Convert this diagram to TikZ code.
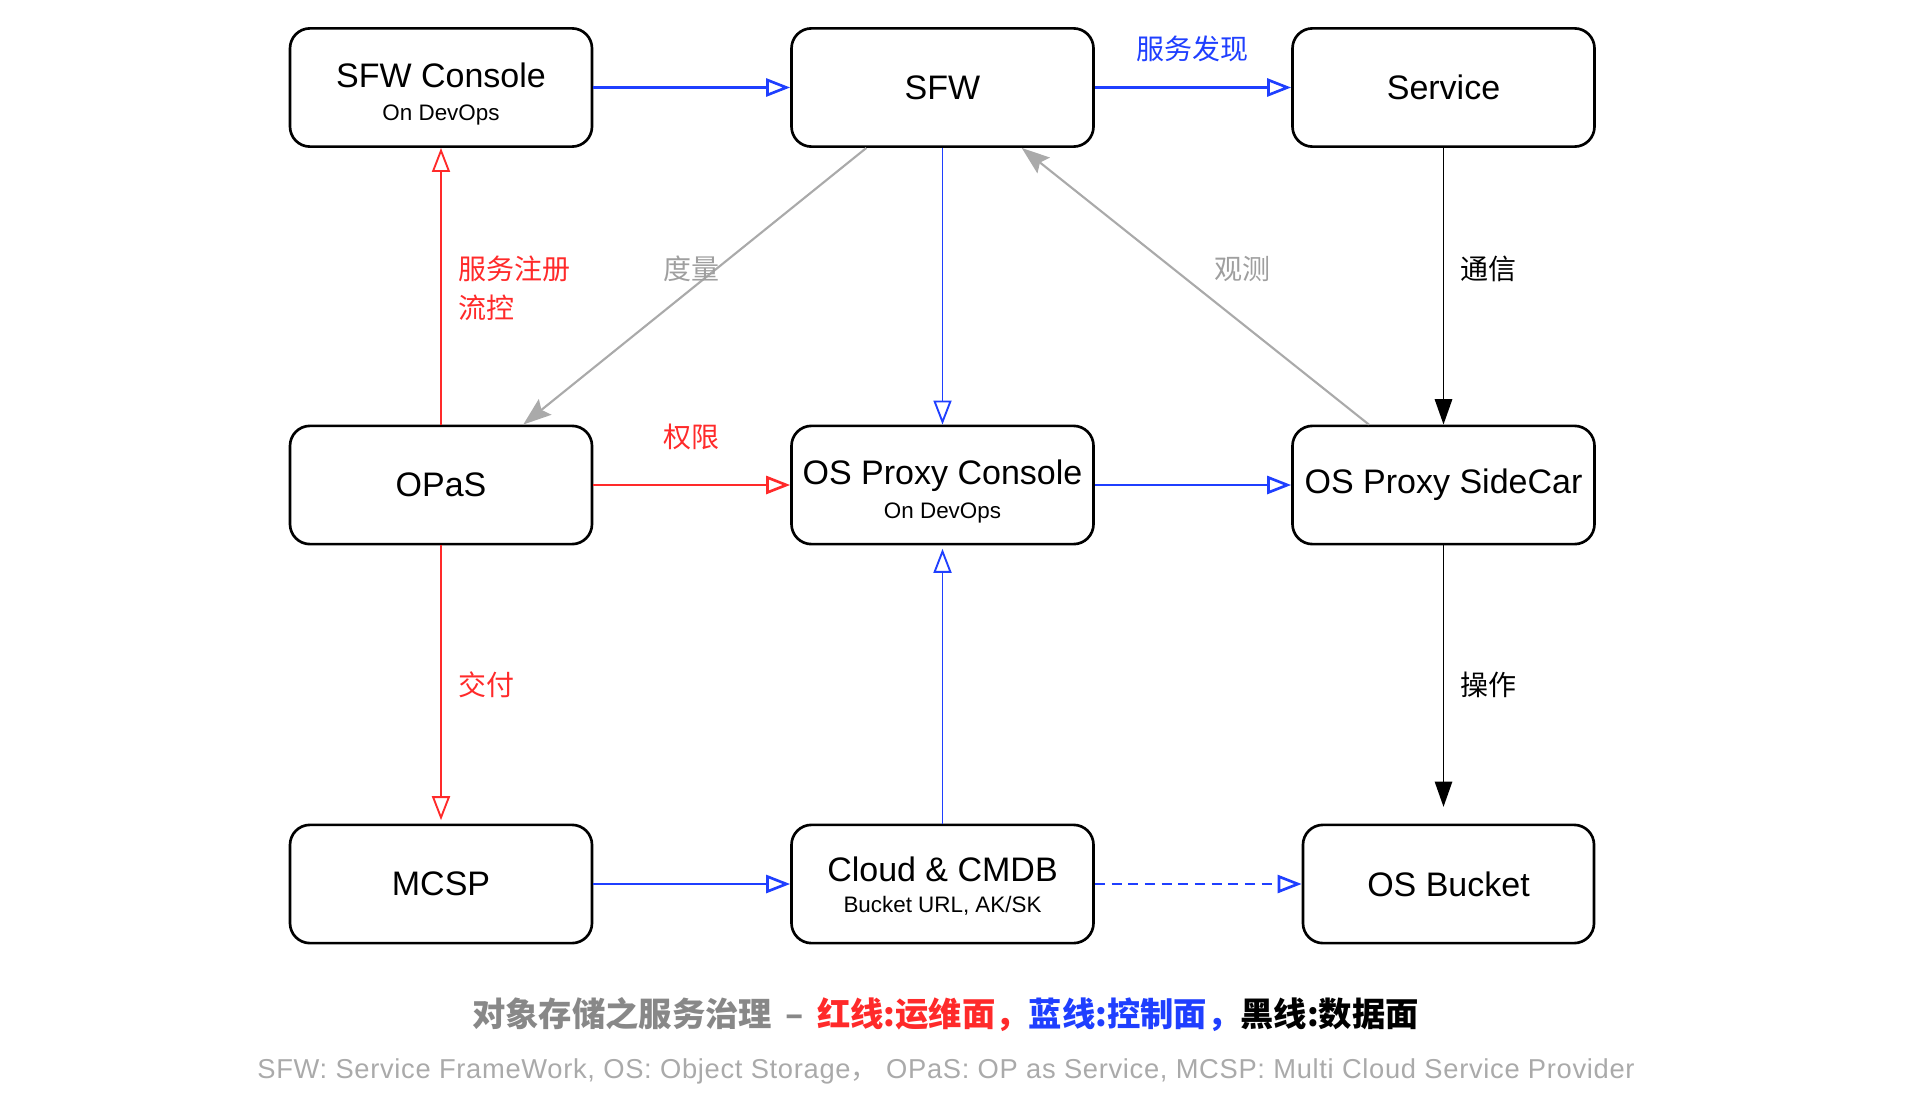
\documentclass[tikz,border=0pt]{standalone}
\usepackage{fontspec}
\setmainfont{Liberation Sans}
\newfontfamily\cjk{Noto Sans CJK SC}
\usetikzlibrary{arrows.meta,calc}
\definecolor{cblue}{HTML}{1F3FFF}
\definecolor{cred}{HTML}{FF2A2A}
\definecolor{cgray}{HTML}{AAAAAA}
\definecolor{lgray}{HTML}{9F9F9F}
\definecolor{capgray}{HTML}{888888}
\newcommand{\subt}[1]{{\fontsize{16.8}{19}\selectfont #1}}
\tikzset{
  box/.style={draw=black, line width=2pt, rounded corners=15pt, minimum width=226.5pt,
    minimum height=88.7pt, align=center, inner sep=0pt, font=\fontsize{25.5}{25}\selectfont},
  openarr/.style={-{Triangle[open, length=18pt, width=13.5pt]}},
  thickline/.style={line width=2pt},
  thinline/.style={line width=1.4pt},
  blueflow/.style={cblue, openarr},
  redflow/.style={cred, openarr},
  blackflow/.style={black, thinline, -{Triangle[length=19pt, width=13pt]}},
  grayflow/.style={cgray, line width=1.6pt, -{Stealth[length=21pt, width=15pt, inset=3.5pt]}},
  elabel/.style={font=\cjk\fontsize{21}{29}\selectfont, inner sep=0pt},
}
\begin{document}
\begin{tikzpicture}[x=0.75pt, y=-0.75pt]
\useasboundingbox (0,0) rectangle (1914,1106);
% nodes
\node[box, font=\fontsize{25.5}{25}\selectfont] (sfwc) at (441,87.5) {\rule{0pt}{28pt}SFW Console\\\subt{On DevOps}};
\node[box] (sfw) at (942.5,87.5) {SFW};
\node[box] (svc) at (1443.5,87.5) {Service};
\node[box] (opas) at (441,485) {OPaS};
\node[box, font=\fontsize{25.5}{26}\selectfont] (ospc) at (942.5,485) {\rule{0pt}{28pt}OS Proxy Console\\\subt{On DevOps}};
\node[box] (ossc) at (1443.5,485) {OS Proxy SideCar};
\node[box] (mcsp) at (441,884) {MCSP};
\node[box, font=\fontsize{25.5}{23.2}\selectfont] (cloud) at (942.5,884) {\rule{0pt}{22pt}Cloud \& CMDB\\\subt{Bucket URL, AK/SK}};
\node[box, minimum width=218.3pt] (bucket) at (1448.5,884) {OS Bucket};
% blue edges
\draw[blueflow, thickline] (sfwc) -- (sfw);
\draw[blueflow, thickline] (sfw) -- (svc);
\draw[blueflow, thinline] (sfw) -- (ospc);
\draw[blueflow, thickline] (ospc) -- (ossc);
\draw[blueflow, thickline] (mcsp) -- (cloud);
\draw[blueflow, thinline, shorten >=2.5pt] (cloud) -- (ospc);
\draw[blueflow, thickline, dashed, dash pattern=on 7.5pt off 5pt] (cloud) -- (bucket);
% red edges
\draw[redflow, thinline] (opas) -- (sfwc);
\draw[redflow, thinline, shorten >=2.5pt] (opas) -- (mcsp);
\draw[redflow, thickline] (opas) -- (ospc);
% black edges
\draw[blackflow] (svc) -- (ossc);
\draw[blackflow, shorten >=12.5pt] (ossc) -- (ossc|-bucket.north);
% gray edges
\draw[grayflow] ($(sfw.south west)!0.25!(sfw.south east)$) -- ($(opas.north west)!0.77!(opas.north east)$);
\draw[grayflow] ($(ossc.north west)!0.255!(ossc.north east)$) -- ($(sfw.south west)!0.76!(sfw.south east)$);
% labels
\node[elabel, text=cblue] (l1) at (1192,48.5) {服务发现};
\node[elabel, text=black, anchor=west] (l2) at (1460,268.5) {通信};
\node[elabel, text=black, anchor=west] (l3) at (1460,685) {操作};
\node[elabel, text=cred, anchor=west, align=left] (l4) at (457.8,288) {服务注册\\流控};
\node[elabel, text=cred, anchor=west] (l5) at (457.8,685) {交付};
\node[elabel, text=cred] (l6) at (691,437) {权限};
\node[elabel, text=lgray] (l7) at (691,269) {度量};
\node[elabel, text=lgray] (l8) at (1242.7,269) {观测};
% caption
\node[font=\cjk\bfseries\fontsize{25}{30}\selectfont, inner sep=0pt] (cap) at (945.5,1015)
  {\textcolor{capgray}{对象存储之服务治理\hspace{0.4em}–\hspace{0.4em}}\textcolor{cred}{红线:运维面，}\textcolor{cblue}{蓝线:控制面，}\textcolor{black}{黑线:数据面}};
\node[font=\addfontfeature{LetterSpace=2.5}\fontsize{20.5}{24}\selectfont, text=cgray, inner sep=0pt] (foot) at (946,1071)
  {SFW: Service FrameWork, OS: Object Storage{\cjk ，} OPaS: OP as Service, MCSP: Multi Cloud Service Provider};
\end{tikzpicture}
\end{document}
